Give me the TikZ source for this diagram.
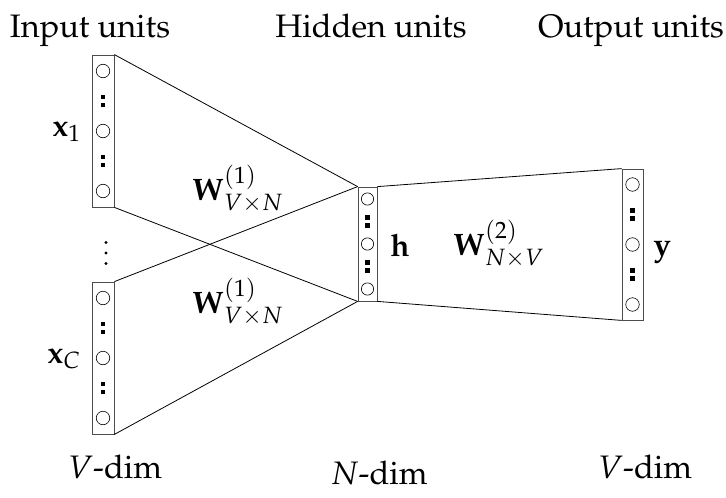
\documentclass[tikz,border=0pt]{standalone}
\usepackage[T1]{fontenc}
\usepackage{mathpazo}
\usetikzlibrary{calc}
\tikzset{
  col/.style={draw=black!70, line width=0.8pt, rectangle, inner sep=0pt, fill=white},
  unit/.style={draw=black, line width=0.6pt, circle, inner sep=0pt},
  conn/.style={draw=black, line width=0.8pt},
  lbl/.style={inner sep=0pt, font=\fontsize{31}{36}\selectfont},
  ttl/.style={inner sep=0pt, font=\fontsize{32.5}{38}\selectfont},
}
\newcommand\sqdots[2]{%
  \fill[black] ($(#1)+(-2.3,#2-4-2.3)$) rectangle ++(4.6,4.6);
  \fill[black] ($(#1)+(-2.3,#2+4-2.3)$) rectangle ++(4.6,4.6);}
\begin{document}
\begin{tikzpicture}[x=1pt,y=-1pt]
\useasboundingbox (0,0) rectangle (726,498);
% columns
\node[col, minimum width=22pt, minimum height=152pt] (i1) at (103,131) {};
\node[col, minimum width=22pt, minimum height=152pt] (i2) at (103,358) {};
\node[col, minimum width=19pt, minimum height=114pt] (hh) at (367.5,244) {};
\node[col, minimum width=21pt, minimum height=151pt] (oo) at (632.5,244.5) {};
% connectors
\draw[conn] (i1.north east) -- (hh.north west);
\draw[conn] (i1.south east) -- (hh.south west);
\draw[conn] (i2.north east) -- (hh.north west);
\draw[conn] (i2.south east) -- (hh.south west);
\draw[conn] (hh.north east) -- (oo.north west);
\draw[conn] (hh.south east) -- (oo.south west);
% units
\foreach \d [count=\k] in {-60,0,60} {
  \node[unit, minimum size=13.5pt] (a\k) at ($(i1.center)+(0,\d)$) {};
  \node[unit, minimum size=13.5pt] (b\k) at ($(i2.center)+(0,\d)$) {};
  \node[unit, minimum size=13.5pt] (o\k) at ($(oo.center)+(0,\d)$) {};
}
\foreach \d [count=\k] in {-45,0,45} {
  \node[unit, minimum size=12.3pt] (c\k) at ($(hh.center)+(0,\d)$) {};
}
\sqdots{i1.center}{-30}\sqdots{i1.center}{30}
\sqdots{i2.center}{-30}\sqdots{i2.center}{30}
\sqdots{oo.center}{-30}\sqdots{oo.center}{30}
\sqdots{hh.center}{-22.5}\sqdots{hh.center}{22.5}
% vertical dots between input columns
\foreach \yy in {242.5,253,263.5} \fill (106,\yy) circle (1.6);
% labels
\node[ttl, anchor=base] (t1) at (90,37) {Input units};
\node[ttl, anchor=base] (t2) at (371,37) {Hidden units};
\node[ttl, anchor=base] (t3) at (631,37) {Output units};
\node[ttl, anchor=base] (d1) at (115,478) {$V$-dim};
\node[ttl, anchor=base] (d2) at (379,484) {$N$-dim};
\node[ttl, anchor=base] (d3) at (645,478) {$V$-dim};
\node[lbl, anchor=base west] (x1) at (52,136) {$\mathbf{x}_1$};
\node[lbl, anchor=base west] (xC) at (47,363) {$\mathbf{x}_C$};
\node[lbl, anchor=base west] (w1) at (192,200) {$\mathbf{W}^{(1)}_{V\times N}$};
\node[lbl, anchor=base west] (w1b) at (192,313) {$\mathbf{W}^{(1)}_{V\times N}$};
\node[lbl, anchor=base west] (w2) at (453,255) {$\mathbf{W}^{(2)}_{N\times V}$};
\node[lbl, anchor=base west] (hl) at (390,256) {$\mathbf{h}$};
\node[lbl, anchor=base west] (yl) at (653,255) {$\mathbf{y}$};
\end{tikzpicture}
\end{document}
